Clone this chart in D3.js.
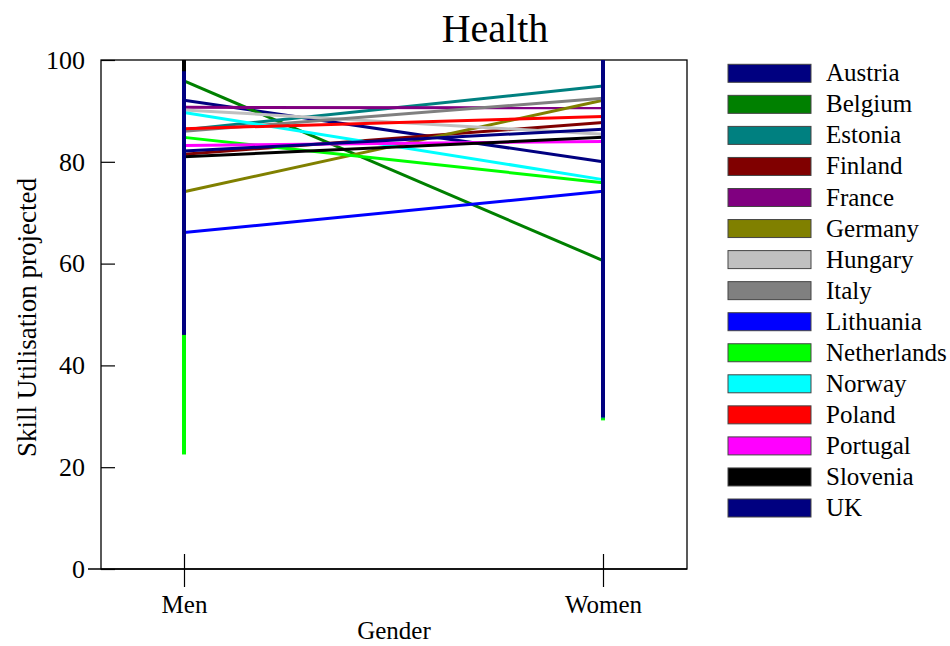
<!DOCTYPE html>
<html>
<head>
<meta charset="utf-8">
<script src="https://cdn.jsdelivr.net/npm/d3@7"></script>
<style>
    body { margin: 0; background: #fff; }
    text { font-family: "Liberation Serif", "Times New Roman", serif; fill: #000; }
</style>
</head>
<body>
<div id="chart"></div>
<script>
var genders = ['Men', 'Women'];
var countries = ['Austria', 'Belgium', 'Estonia', 'Finland', 'France', 'Germany', 'Hungary', 'Italy',
    'Lithuania', 'Netherlands', 'Norway', 'Poland', 'Portugal', 'Slovenia', 'UK'];
var colours = ['#000080', '#008000', '#008080', '#800000', '#800080', '#808000', '#c0c0c0', '#808080',
    '#0000ff', '#00ff00', '#00ffff', '#ff0000', '#ff00ff', '#000000', '#000080'];
var menValues   = [92.1, 95.9, 86.3, 81.5, 90.7, 74.1, 90.2, 86.0, 66.1, 84.8, 89.7, 86.5, 83.2, 81.0, 82.1];
var womenValues = [80.0, 60.6, 94.9, 87.7, 90.6, 92.1, 85.4, 92.5, 74.2, 75.9, 76.5, 88.9, 84.0, 84.8, 86.4];
// vertical spread drawn at each gender (only the visible parts)
var rangeCountries = ['Netherlands', 'Estonia', 'Slovenia', 'UK'];
var menRangeLow    = [22.5, null, 46.0, 46.0];
var menRangeHigh   = [46.0, null, 100, 97.8];
var womenRangeLow  = [29.2, 29.6, null, 29.8];
var womenRangeHigh = [35.0, 38.0, null, 100];
var yTicks = [0, 20, 40, 60, 80, 100];

var w = 950;
var h = 646;
var plotL = 101, plotR = 687, plotT = 60, plotB = 569;

var svg = d3.select('#chart').append('svg')
    .attr('width', w)
    .attr('height', h);

var x = d3.scalePoint().domain(genders).range([184, 603]);
var y = d3.scaleLinear().domain([0, 100]).range([plotB, plotT]);
var colour = d3.scaleOrdinal().domain(countries).range(colours);

// frame
svg.append('rect')
    .attr('x', plotL)
    .attr('y', plotT)
    .attr('width', plotR - plotL)
    .attr('height', plotB - plotT)
    .attr('fill', 'none')
    .attr('stroke', '#000')
    .attr('stroke-width', 1.3);

// y axis: ticks cross the axis line
var yAxis = svg.append('g')
    .attr('transform', 'translate(' + plotL + ',0)')
    .call(d3.axisLeft(y).tickValues(yTicks).tickSize(13).tickPadding(3));
yAxis.select('.domain').remove();
yAxis.selectAll('.tick line').attr('x2', 14).attr('stroke', '#000').attr('stroke-width', 1.2);
yAxis.selectAll('.tick text')
    .attr('font-size', 26)
    .attr('font-family', '"Liberation Serif", serif');

// x axis
var xAxis = svg.append('g')
    .attr('transform', 'translate(0,' + plotB + ')')
    .call(d3.axisBottom(x).tickSize(18).tickPadding(8));
xAxis.select('.domain').attr('d', 'M' + (plotL - 13) + ',0H' + plotR).attr('stroke-width', 1.3);
xAxis.selectAll('.tick line').attr('y1', -15).attr('stroke-width', 1.2);
xAxis.selectAll('.tick text')
    .attr('font-size', 25)
    .attr('font-family', '"Liberation Serif", serif');

var rows = countries.map(function (c, i) {
    return { country: c, values: [menValues[i], womenValues[i]] };
});

var line = d3.line()
    .x(function (d, i) { return x(genders[i]); })
    .y(function (d) { return y(d); });

svg.append('g').selectAll('path')
    .data(rows)
    .enter().append('path')
    .attr('d', function (d) { return line(d.values); })
    .attr('fill', 'none')
    .attr('stroke', function (d) { return colour(d.country); })
    .attr('stroke-width', 3);

var ranges = [];
rangeCountries.forEach(function (c, i) {
    if (menRangeLow[i] !== null) ranges.push({ country: c, g: 'Men', lo: menRangeLow[i], hi: menRangeHigh[i] });
    if (womenRangeLow[i] !== null) ranges.push({ country: c, g: 'Women', lo: womenRangeLow[i], hi: womenRangeHigh[i] });
});

svg.append('g').selectAll('line')
    .data(ranges)
    .enter().append('line')
    .attr('x1', function (d) { return x(d.g); })
    .attr('x2', function (d) { return x(d.g); })
    .attr('y1', function (d) { return y(d.lo); })
    .attr('y2', function (d) { return y(d.hi); })
    .attr('stroke', function (d) { return colour(d.country); })
    .attr('stroke-width', 4);

// titles
svg.append('text')
    .attr('x', 495)
    .attr('y', 42)
    .attr('text-anchor', 'middle')
    .attr('font-size', 40)
    .text('Health');

svg.append('text')
    .attr('x', (plotL + plotR) / 2)
    .attr('y', 639)
    .attr('text-anchor', 'middle')
    .attr('font-size', 25)
    .text('Gender');

svg.append('text')
    .attr('transform', 'translate(36,' + ((plotT + plotB) / 2 + 3) + ') rotate(-90)')
    .attr('text-anchor', 'middle')
    .attr('font-size', 27)
    .text('Skill Utilisation projected');

// legend
var legend = svg.append('g').selectAll('g')
    .data(countries)
    .enter().append('g')
    .attr('transform', function (d, i) { return 'translate(728,' + (64.3 + i * 31.05) + ')'; });

legend.append('rect')
    .attr('width', 83)
    .attr('height', 18)
    .attr('fill', function (d) { return colour(d); })
    .attr('stroke', '#444')
    .attr('stroke-width', 1);

legend.append('text')
    .attr('x', 98)
    .attr('y', 17)
    .attr('font-size', 25)
    .text(function (d) { return d; });
</script>
</body>
</html>
